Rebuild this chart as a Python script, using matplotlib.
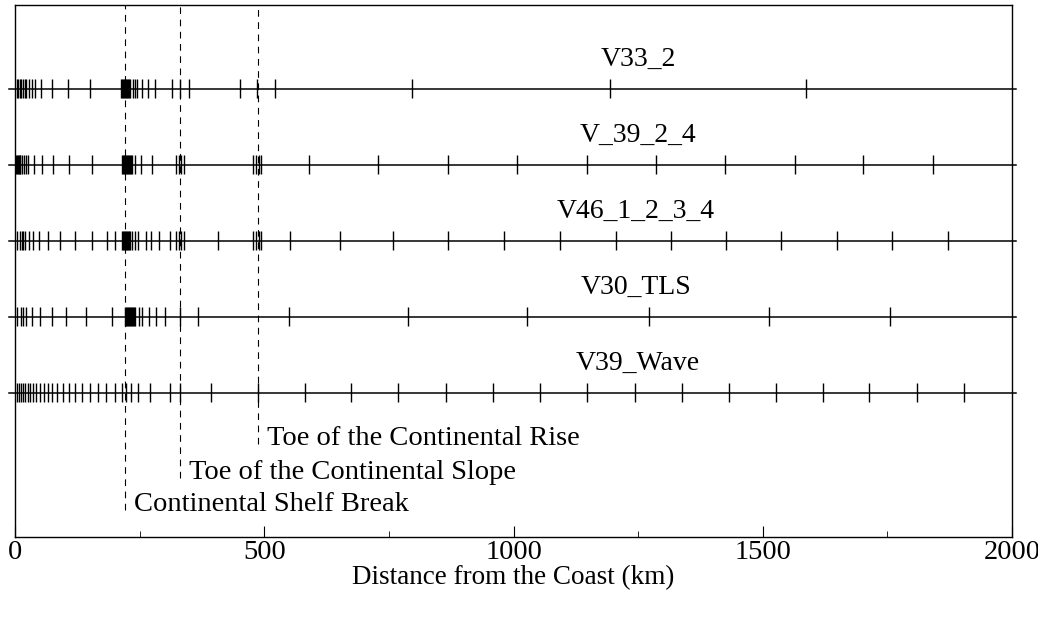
import matplotlib.pyplot as plt

plt.rcParams['font.family'] = ['Liberation Serif', 'DejaVu Serif']

# cruise names and their row heights (top to bottom)
cruises = ['V33_2', 'V_39_2_4', 'V46_1_2_3_4', 'V30_TLS', 'V39_Wave']
row_y = [6, 5, 4, 3, 2]

# station distances from the coast (km)
v33_2 = [4, 6, 9, 12, 15, 19, 22, 27, 35, 41, 53, 75, 106, 151,
         213, 215, 217, 219, 221, 223, 225, 227, 229, 231,
         236, 240, 244, 254, 266, 280, 315, 331, 348, 451, 486, 522,
         797, 1193, 1587]
v39_2_4 = [2, 4, 5, 7, 9, 10, 13, 17, 21, 26, 39, 55, 77, 109, 154,
           215, 217, 219, 221, 223, 225, 227, 229, 231, 233, 235,
           241, 253, 274, 322, 328, 333, 338, 478, 483, 489, 494, 589,
           728, 868, 1006, 1147, 1285, 1425, 1564, 1702, 1842]
v46 = [4, 9, 13, 16, 19, 27, 37, 49, 66, 91, 121, 155, 184, 201,
       215, 217, 219, 221, 223, 225, 227, 229, 231, 234,
       240, 246, 262, 273, 289, 311, 322, 328, 333, 338, 408,
       478, 483, 489, 494, 551, 651, 758, 869, 980, 1093, 1205,
       1315, 1427, 1537, 1648, 1759, 1871]
v30_tls = [4, 11, 15, 21, 34, 51, 74, 102, 142, 194,
           220, 222, 224, 226, 228, 230, 232, 234, 236, 238,
           241, 248, 254, 268, 282, 301, 331, 366, 549, 788, 1027,
           1272, 1513, 1755]
v39_wave = [4, 8, 12, 16, 20, 25, 30, 36, 42, 50, 58, 66, 74, 84, 96,
            108, 120, 134, 150, 166, 182, 200, 215, 222, 232, 247, 270,
            311, 330, 394, 487, 581, 674, 769, 864, 958, 1053, 1148,
            1243, 1337, 1432, 1527, 1620, 1714, 1809, 1904]
stations = [v33_2, v39_2_4, v46, v30_tls, v39_wave]
label_x = [1250, 1250, 1245, 1245, 1250]

# physiographic boundaries
bound_names = ['Continental Shelf Break', 'Toe of the Continental Slope',
               'Toe of the Continental Rise']
bound_x = [220, 330, 487]
bound_bottom = [0.46, 0.88, 1.32]

fig = plt.figure(figsize=(10.38, 6.17), dpi=100)
ax = fig.add_axes([0.0145, 0.1297, 0.9605, 0.8622])
ax.set_xlim(0, 2000)
ax.set_ylim(0.1, 7.1)

# dashed boundary lines with their labels
for name, bx, bb in zip(bound_names, bound_x, bound_bottom):
    ax.plot([bx, bx], [bb, 7.1], color='black', linestyle=(0, (6, 5)),
            linewidth=0.8, zorder=1)
    ax.text(bx + 18, bb + 0.07, name, ha='left', va='center', fontsize=20.5)

# each cruise: a baseline plus a vertical tick per station
for name, y, xs, lx in zip(cruises, row_y, stations, label_x):
    ax.plot([-12, 2008], [y, y], color='black', linewidth=1.1,
            clip_on=False, zorder=2)
    ax.vlines(xs, y - 0.13, y + 0.13, color='black', linewidth=1.0, zorder=3)
    ax.text(lx, y + 0.38, name, ha='center', va='center', fontsize=20)

ax.set_xticks([0, 500, 1000, 1500, 2000])
ax.set_xticklabels(['0', '500', '1000', '1500', '2000'])
ax.set_xticks([250, 750, 1250, 1750], minor=True)
ax.tick_params(axis='x', which='major', direction='in', length=8,
               labelsize=20.5, pad=2)
ax.tick_params(axis='x', which='minor', direction='in', length=4)
ax.set_yticks([])
ax.set_xlabel('Distance from the Coast (km)', fontsize=19.5, labelpad=0)
for s in ax.spines.values():
    s.set_linewidth(1.0)

fig.savefig('out.png', dpi=100)
